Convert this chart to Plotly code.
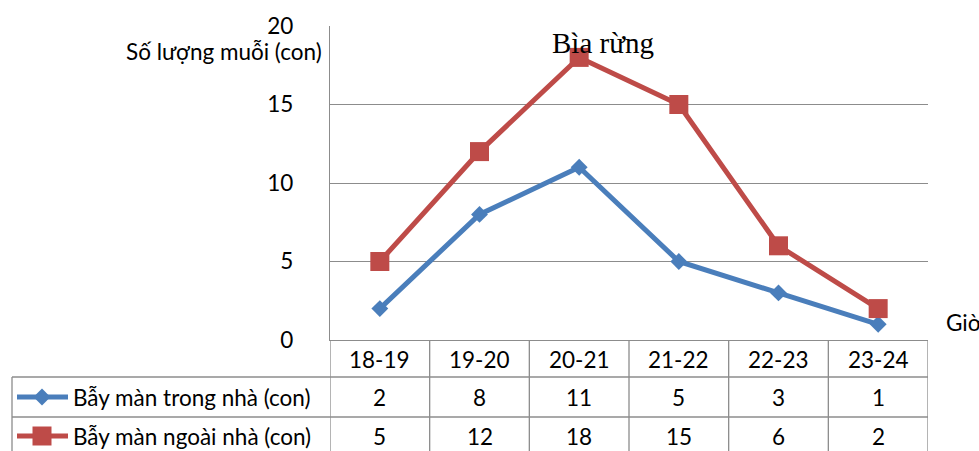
import plotly.graph_objects as go

categories = ["18-19", "19-20", "20-21", "21-22", "22-23", "23-24"]
indoor = [2, 8, 11, 5, 3, 1]
outdoor = [5, 12, 18, 15, 6, 2]
series_names = ["Bẫy màn trong nhà (con)", "Bẫy màn ngoài nhà (con)"]
y_ticks = [0, 5, 10, 15, 20]
y_title = "Số lượng muỗi (con)"
x_title = "Giờ"
chart_title = "Bìa rừng"

W, H = 979, 451
BLUE = "#4A7EBB"
RED = "#BE4B48"
GRID = "#8C8C8C"
FONT = "Lato"
FS = 22.5

x_left, x_right = 330, 928
y_top, y_bot = 26, 340

fig = go.Figure()

fig.add_trace(go.Scatter(
    x=categories, y=indoor, mode="lines+markers", name=series_names[0],
    line=dict(color=BLUE, width=5),
    marker=dict(symbol="diamond", size=13, color=BLUE),
    xaxis="x", yaxis="y", cliponaxis=False, showlegend=False))
fig.add_trace(go.Scatter(
    x=categories, y=outdoor, mode="lines+markers", name=series_names[1],
    line=dict(color=RED, width=5),
    marker=dict(symbol="square", size=19, color=RED),
    xaxis="x", yaxis="y", cliponaxis=False, showlegend=False))

row_y = [397, 436]
colors = [BLUE, RED]
symbols = ["diamond", "square"]
sizes = [13, 19]
for i in range(2):
    fig.add_trace(go.Scatter(
        x=[17, 42, 68], y=[row_y[i]] * 3, mode="lines",
        line=dict(color=colors[i], width=5),
        xaxis="x2", yaxis="y2", showlegend=False, hoverinfo="skip"))
    fig.add_trace(go.Scatter(
        x=[42], y=[row_y[i]], mode="markers",
        marker=dict(symbol=symbols[i], size=sizes[i], color=colors[i]),
        xaxis="x2", yaxis="y2", showlegend=False, hoverinfo="skip"))

shapes = []
line_style = dict(color=GRID, width=1.3)
for k in range(len(categories) + 1):
    shapes.append(dict(type="line", xref="x", yref="y2",
                       x0=k - 0.5, x1=k - 0.5, y0=y_bot, y1=H, line=line_style))
for yy in [377, 417]:
    shapes.append(dict(type="line", xref="x2", yref="y2",
                       x0=12, x1=x_right, y0=yy, y1=yy, line=line_style))
shapes.append(dict(type="line", xref="x2", yref="y2",
                   x0=12, x1=12, y0=377, y1=H, line=line_style))

annotations = []
tfont = dict(family=FONT, size=FS, color="#000")
for i, c in enumerate(categories):
    annotations.append(dict(x=c, y=359, xref="x", yref="y2", text=c,
                            showarrow=False, font=tfont))
    annotations.append(dict(x=c, y=397, xref="x", yref="y2", text=str(indoor[i]),
                            showarrow=False, font=tfont))
    annotations.append(dict(x=c, y=436, xref="x", yref="y2", text=str(outdoor[i]),
                            showarrow=False, font=tfont))
for i in range(2):
    annotations.append(dict(x=71, y=row_y[i], xref="x2", yref="y2", text=series_names[i],
                            xanchor="left", showarrow=False, font=tfont))
annotations.append(dict(x=324, y=51, xref="x2", yref="y2", text=y_title,
                        xanchor="right", showarrow=False, font=tfont))
annotations.append(dict(x=944, y=322, xref="x2", yref="y2", text=x_title,
                        xanchor="left", showarrow=False, font=tfont))
annotations.append(dict(x=603, y=43, xref="x2", yref="y2", text=chart_title,
                        showarrow=False, font=dict(family="Liberation Serif", size=29, color="#000")))

fig.update_layout(
    width=W, height=H, autosize=False,
    margin=dict(l=0, r=0, t=0, b=0, pad=0, autoexpand=False),
    paper_bgcolor="white",
    plot_bgcolor="rgba(0,0,0,0)",
    xaxis=dict(domain=[x_left / W, x_right / W], range=[-0.5, 5.5],
               showticklabels=False, showgrid=False, zeroline=False, automargin=False,
               showline=True, linecolor=GRID, linewidth=1.3, ticks="", anchor="y"),
    yaxis=dict(domain=[(H - y_bot) / H, (H - y_top) / H], range=[0, 20],
               tickvals=y_ticks, ticktext=[str(v) for v in y_ticks], automargin=False,
               showgrid=True, gridcolor=GRID, gridwidth=1.3, zeroline=False,
               showline=True, linecolor=GRID, linewidth=1.3,
               ticks="", ticklabelstandoff=31,
               tickfont=dict(family=FONT, size=FS, color="#000"), anchor="x"),
    xaxis2=dict(domain=[0, 1], range=[0, W], visible=False, anchor="y2", automargin=False),
    yaxis2=dict(domain=[0, 1], range=[H, 0], visible=False, anchor="x2", automargin=False),
    shapes=shapes,
    annotations=annotations,
)

fig.write_html(
    "out.html",
    config={"displayModeBar": False},
    post_script="document.body.style.margin='0';document.body.style.padding='0';"
                "document.documentElement.style.overflow='hidden';",
)
